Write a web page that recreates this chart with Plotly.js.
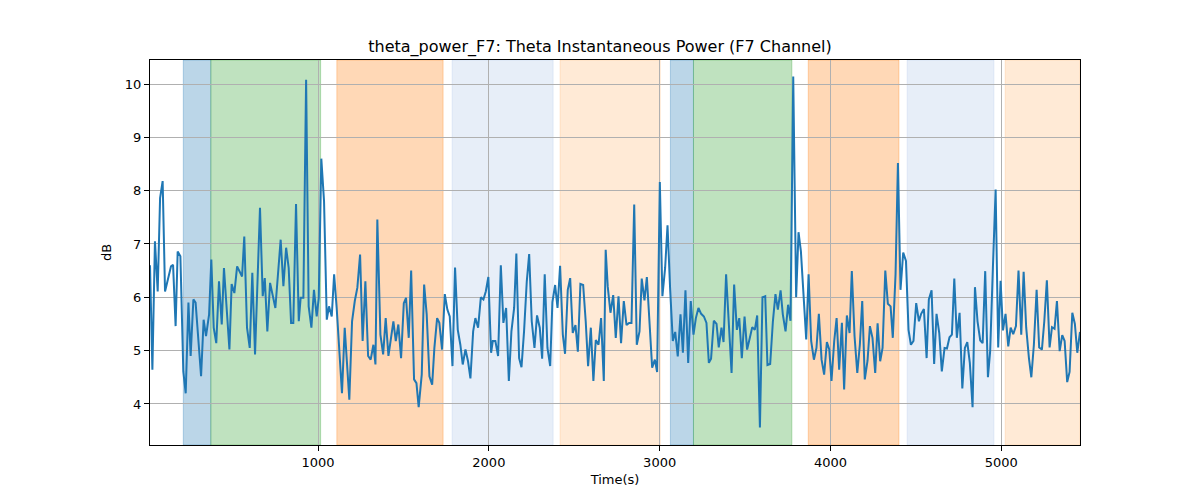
<!DOCTYPE html>
<html>
<head>
<meta charset="utf-8">
<script src="https://cdn.plot.ly/plotly-3.0.1.min.js"></script>
<style>
  body { margin: 0; background: #fff; }
  #plotArea { width: 1200px; height: 500px; }
</style>
</head>
<body>
<div id="plotArea"></div>
<script>
// sample times (s) and theta power (dB)
var times = [
  16, 30, 45, 61, 75, 90, 104, 119, 139, 151, 166, 178, 194, 211, 225, 241, 254, 270, 283, 315,
  330, 344, 362, 375, 389, 404, 420, 436, 449, 481, 494, 510, 526, 555, 568, 584, 600, 615, 631, 660,
  676, 688, 703, 719, 750, 781, 797, 813, 828, 842, 855, 871, 887, 898, 914, 930, 945, 961, 976, 992,
  1004, 1019, 1035, 1051, 1064, 1080, 1094, 1109, 1140, 1156, 1183, 1199, 1215, 1230, 1246, 1261, 1277, 1293, 1308, 1324,
  1336, 1347, 1365, 1381, 1396, 1412, 1427, 1441, 1455, 1470, 1486, 1502, 1515, 1531, 1545, 1562, 1576, 1589, 1607, 1621,
  1636, 1652, 1668, 1681, 1697, 1710, 1726, 1742, 1757, 1771, 1787, 1802, 1818, 1833, 1847, 1863, 1878, 1892, 1908, 1921,
  1937, 1953, 1968, 1982, 1997, 2013, 2023, 2038, 2054, 2070, 2085, 2101, 2117, 2132, 2148, 2161, 2177, 2191, 2206, 2222,
  2236, 2251, 2267, 2282, 2298, 2312, 2327, 2343, 2359, 2372, 2388, 2402, 2417, 2433, 2446, 2462, 2476, 2491, 2507, 2521,
  2536, 2552, 2567, 2581, 2597, 2612, 2626, 2642, 2657, 2673, 2684, 2696, 2712, 2728, 2743, 2759, 2774, 2790, 2806, 2821,
  2835, 2851, 2866, 2882, 2895, 2911, 2925, 2940, 2956, 2972, 2985, 3001, 3016, 3032, 3046, 3061, 3077, 3091, 3106, 3122,
  3136, 3151, 3167, 3182, 3198, 3212, 3227, 3243, 3259, 3274, 3288, 3301, 3317, 3333, 3346, 3362, 3374, 3389, 3405, 3421,
  3436, 3452, 3466, 3481, 3497, 3512, 3528, 3542, 3557, 3571, 3587, 3602, 3618, 3631, 3647, 3663, 3678, 3692, 3708, 3721,
  3737, 3752, 3766, 3782, 3799, 3813, 3827, 3842, 3858, 3872, 3887, 3903, 3918, 3932, 3948, 3963, 3979, 3993, 4006, 4022,
  4036, 4051, 4067, 4080, 4096, 4112, 4125, 4141, 4157, 4172, 4186, 4201, 4217, 4231, 4246, 4262, 4276, 4291, 4305, 4321,
  4336, 4352, 4365, 4381, 4395, 4410, 4426, 4442, 4457, 4471, 4486, 4502, 4518, 4531, 4547, 4563, 4576, 4592, 4607, 4621,
  4637, 4652, 4668, 4682, 4697, 4711, 4725, 4740, 4756, 4772, 4787, 4801, 4816, 4832, 4846, 4861, 4877, 4891, 4906, 4922,
  4935, 4951, 4967, 4982, 4996, 5010, 5025, 5041, 5055, 5070, 5086, 5101, 5117, 5131, 5146, 5162, 5176, 5191, 5207, 5222,
  5238, 5252, 5267, 5283, 5297, 5312, 5326, 5342, 5357, 5371, 5386, 5400, 5416, 5431, 5445, 5461
];
var power = [
  6.6, 4.64, 7.05, 6.11, 7.86, 8.18, 6.11, 6.3, 6.58, 6.61, 5.46, 6.86, 6.77, 4.61, 4.2, 5.9, 4.9, 5.96, 5.9, 4.52,
  5.58, 5.27, 5.68, 6.71, 5.43, 5.14, 6.3, 5.49, 6.55, 5.02, 6.25, 6.08, 6.58, 6.39, 7.14, 5.43, 5.05, 6.46, 4.93, 7.68,
  6.02, 6.36, 5.36, 6.27, 5.8, 7.08, 6.21, 6.93, 6.55, 5.52, 5.52, 7.75, 5.55, 5.99, 5.99, 10.08, 5.83, 5.43, 6.14, 5.64,
  5.99, 8.6, 7.8, 5.58, 5.83, 5.64, 6.43, 5.8, 4.2, 5.43, 4.08, 5.55, 5.93, 6.18, 6.8, 5.18, 6.3, 4.9, 4.83, 5.11,
  4.74, 7.46, 5.3, 4.93, 5.61, 4.9, 5.24, 5.55, 5.18, 5.49, 4.86, 5.89, 5.99, 5.24, 6.5, 4.46, 4.39, 3.94, 4.55, 6.24,
  5.68, 4.52, 4.36, 5.05, 5.61, 5.52, 5.02, 6.06, 5.77, 5.64, 4.71, 6.56, 5.39, 5.11, 4.74, 5.02, 4.8, 4.48, 5.36, 5.61,
  5.43, 6.0, 5.96, 6.11, 6.38, 4.96, 5.18, 5.18, 4.9, 6.6, 5.52, 5.8, 4.43, 5.36, 5.8, 6.82, 4.86, 4.69, 5.36, 6.3,
  6.81, 5.55, 5.05, 5.66, 5.43, 4.85, 6.43, 5.05, 4.71, 5.91, 6.23, 5.8, 6.59, 5.3, 4.94, 6.14, 6.36, 5.33, 5.48, 4.98,
  6.25, 6.23, 5.55, 4.71, 5.43, 4.43, 5.2, 5.11, 5.61, 4.43, 6.89, 6.2, 5.71, 6.04, 5.24, 6.02, 5.14, 5.93, 5.48, 5.52,
  5.52, 7.74, 5.11, 5.36, 6.35, 5.94, 6.38, 5.43, 4.68, 4.83, 4.6, 8.16, 6.02, 6.55, 7.35, 6.18, 5.18, 5.35, 4.89, 5.68,
  4.96, 6.13, 4.77, 5.93, 5.3, 5.61, 5.8, 5.69, 5.64, 5.52, 4.77, 4.85, 5.56, 5.5, 5.06, 5.43, 5.16, 6.43, 5.43, 4.58,
  6.24, 5.39, 5.61, 4.86, 5.64, 5.02, 5.24, 5.44, 5.39, 5.66, 3.56, 6.0, 6.02, 4.73, 4.75, 5.55, 6.06, 5.77, 6.13, 5.68,
  5.36, 5.86, 5.56, 10.14, 6.0, 7.22, 6.86, 5.96, 5.21, 6.43, 5.18, 4.83, 5.05, 5.69, 4.83, 4.55, 5.16, 5.02, 4.43, 5.18,
  5.61, 4.64, 5.52, 4.27, 5.66, 5.33, 6.49, 5.27, 4.58, 5.11, 5.93, 4.46, 4.81, 5.46, 5.24, 4.58, 5.51, 4.8, 5.05, 6.5,
  5.88, 5.83, 5.24, 6.43, 8.52, 6.14, 6.84, 6.68, 5.39, 5.11, 5.18, 5.89, 5.55, 5.69, 5.78, 4.86, 5.96, 6.13, 4.75, 5.69,
  5.33, 4.61, 5.05, 5.04, 5.25, 5.3, 6.35, 5.24, 5.71, 4.29, 5.05, 5.16, 4.77, 3.94, 6.19, 5.55, 5.19, 5.14, 6.49, 4.5,
  4.99, 6.55, 8.02, 5.06, 6.31, 5.38, 5.69, 5.08, 5.43, 5.31, 5.46, 6.5, 5.3, 6.48, 5.43, 4.86, 4.5, 5.11, 6.14, 5.06,
  5.02, 5.55, 6.32, 5.06, 5.44, 5.41, 5.93, 4.99, 5.29, 5.18, 4.41, 4.6, 5.71, 5.5, 4.96, 5.35
];

// shaded phases
var phaseStart = [211, 372, 1110, 1785, 2417, 3063, 3198, 3870, 4449, 5023];
var phaseEnd   = [372, 1015, 1732, 2376, 3003, 3198, 3774, 4401, 4957, 5461];
var phaseKind  = ["a", "b", "c", "d", "e", "a", "b", "c", "d", "e"];

var kindColor = {
  a: "rgba(31,119,180,0.3)",
  b: "rgba(44,160,44,0.3)",
  c: "rgba(255,127,14,0.3)",
  d: "rgba(174,199,232,0.3)",
  e: "rgba(255,187,120,0.3)"
};

var shapes = [];
for (var i = 0; i < phaseStart.length; i++) {
  shapes.push({
    type: "rect", xref: "x", yref: "paper",
    x0: phaseStart[i], x1: phaseEnd[i], y0: 0, y1: 1,
    fillcolor: kindColor[phaseKind[i]],
    line: { width: 1, color: kindColor[phaseKind[i]] },
    layer: "below"
  });
}

var trace = {
  x: times,
  y: power,
  type: "scatter",
  mode: "lines",
  line: { color: "#1f77b4", width: 2 },
  hoverinfo: "x+y"
};

var axisCommon = {
  showgrid: true,
  gridcolor: "#b0b0b0",
  gridwidth: 1,
  zeroline: false,
  showline: true,
  linecolor: "#000",
  linewidth: 1,
  mirror: true,
  ticks: "outside",
  ticklen: 5,
  tickcolor: "#000",
  tickfont: { size: 13, color: "#000" }
};

var layout = {
  width: 1200,
  height: 500,
  margin: { l: 150, r: 120, t: 60, b: 55 },
  paper_bgcolor: "#fff",
  plot_bgcolor: "#fff",
  font: { family: "DejaVu Sans, sans-serif", color: "#000" },
  showlegend: false,
  title: {
    text: "theta_power_F7: Theta Instantaneous Power (F7 Channel)",
    font: { size: 16, color: "#000" },
    x: 0.5, xanchor: "center", y: 0.897, yanchor: "bottom"
  },
  xaxis: Object.assign({}, axisCommon, {
    range: [times[0], times[times.length - 1]],
    tickvals: [1000, 2000, 3000, 4000, 5000],
    title: { text: "Time(s)", font: { size: 13 }, standoff: 6 }
  }),
  yaxis: Object.assign({}, axisCommon, {
    range: [3.23, 10.45],
    tickvals: [4, 5, 6, 7, 8, 9, 10],
    title: { text: "dB", font: { size: 13 }, standoff: 10 }
  }),
  shapes: shapes
};

Plotly.newPlot("plotArea", [trace], layout, { displayModeBar: false, staticPlot: true });
</script>
</body>
</html>
